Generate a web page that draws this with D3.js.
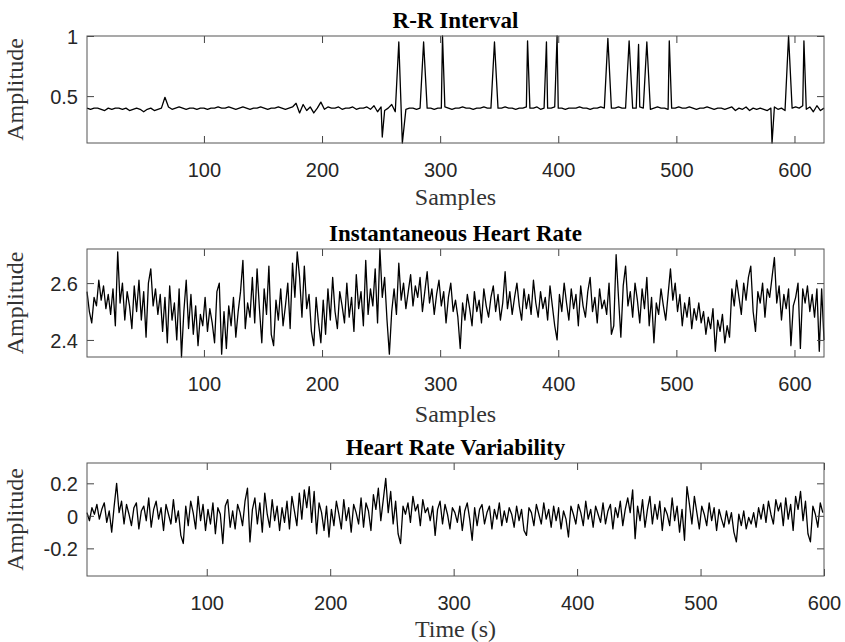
<!DOCTYPE html>
<html>
<head>
<meta charset="utf-8">
<script src="https://cdn.jsdelivr.net/npm/d3@7"></script>
<style>
  body { margin: 0; background: #fff; }
</style>
</head>
<body>
<div id="chart"></div>
<script>
// R-R interval: baseline read every 3 samples (1, 4, 7 ... 625)
const rrBase = [
  0.40,0.39,0.40,0.40,0.39,0.38,0.40,0.39,0.40,0.40,
  0.39,0.40,0.38,0.39,0.40,0.39,0.37,0.39,0.40,0.38,
  0.39,0.40,0.49,0.41,0.39,0.40,0.41,0.40,0.39,0.40,
  0.40,0.39,0.40,0.40,0.39,0.40,0.40,0.41,0.40,0.40,
  0.41,0.40,0.39,0.40,0.41,0.40,0.39,0.40,0.40,0.41,
  0.40,0.39,0.40,0.40,0.41,0.40,0.39,0.40,0.41,0.44,
  0.36,0.43,0.38,0.41,0.36,0.40,0.45,0.39,0.41,0.40,
  0.40,0.41,0.39,0.40,0.40,0.41,0.39,0.40,0.40,0.41,
  0.39,0.42,0.37,0.41,0.38,0.40,0.43,0.37,0.41,0.40,
  0.39,0.40,0.40,0.39,0.40,0.41,0.40,0.40,0.39,0.40,
  0.40,0.41,0.40,0.39,0.40,0.40,0.41,0.40,0.40,0.39,
  0.40,0.40,0.41,0.40,0.40,0.39,0.40,0.40,0.41,0.40,
  0.40,0.39,0.40,0.40,0.41,0.40,0.40,0.41,0.39,0.40,
  0.40,0.40,0.41,0.40,0.40,0.39,0.40,0.40,0.40,0.41,
  0.40,0.40,0.39,0.40,0.40,0.41,0.40,0.39,0.40,0.40,
  0.41,0.40,0.40,0.39,0.40,0.40,0.41,0.40,0.40,0.39,
  0.40,0.41,0.40,0.40,0.39,0.40,0.40,0.41,0.40,0.40,
  0.41,0.40,0.39,0.40,0.40,0.41,0.40,0.39,0.40,0.40,
  0.39,0.40,0.41,0.38,0.40,0.39,0.41,0.38,0.40,0.39,
  0.40,0.39,0.38,0.40,0.41,0.39,0.40,0.38,0.40,0.40,
  0.41,0.40,0.42,0.39,0.41,0.37,0.42,0.38,0.40
];
const rrSpikeSample = [251, 265, 268, 286, 302, 346, 374, 390, 399, 442, 460, 468, 475, 494, 581, 595, 608];
const rrSpikeValue  = [0.16, 0.95, 0.11, 0.95, 1.00, 0.95, 0.96, 0.95, 1.00, 0.98, 0.96, 0.93, 0.95, 0.96, 0.11, 1.00, 0.96];

// instantaneous heart rate, read every 2 samples (1, 3, 5 ... 625)
const ihr = [
  2.57,2.50,2.46,2.55,2.52,2.61,2.54,2.59,2.51,2.56,
  2.49,2.58,2.45,2.71,2.53,2.60,2.47,2.57,2.52,2.44,
  2.59,2.50,2.61,2.47,2.57,2.41,2.60,2.65,2.52,2.58,
  2.49,2.56,2.43,2.55,2.39,2.59,2.47,2.53,2.40,2.58,
  2.34,2.50,2.61,2.44,2.56,2.42,2.52,2.38,2.49,2.45,
  2.55,2.43,2.51,2.46,2.39,2.57,2.60,2.35,2.50,2.37,
  2.52,2.45,2.55,2.41,2.50,2.57,2.68,2.44,2.53,2.48,
  2.62,2.46,2.65,2.51,2.39,2.58,2.49,2.66,2.42,2.38,
  2.54,2.47,2.58,2.45,2.52,2.60,2.44,2.67,2.55,2.71,
  2.62,2.48,2.66,2.51,2.56,2.43,2.38,2.55,2.46,2.39,
  2.54,2.42,2.58,2.47,2.62,2.50,2.44,2.57,2.52,2.46,
  2.60,2.48,2.55,2.43,2.63,2.51,2.57,2.45,2.68,2.49,
  2.58,2.52,2.65,2.46,2.72,2.55,2.62,2.47,2.35,2.50,
  2.58,2.49,2.67,2.54,2.60,2.51,2.57,2.63,2.52,2.59,
  2.55,2.62,2.50,2.57,2.64,2.53,2.58,2.49,2.56,2.61,
  2.52,2.57,2.46,2.55,2.60,2.50,2.54,2.48,2.37,2.53,
  2.47,2.56,2.51,2.45,2.57,2.50,2.54,2.46,2.58,2.52,
  2.48,2.55,2.59,2.50,2.56,2.47,2.53,2.64,2.51,2.57,
  2.49,2.55,2.60,2.52,2.47,2.58,2.51,2.56,2.49,2.61,
  2.53,2.48,2.57,2.51,2.55,2.47,2.59,2.52,2.45,2.40,
  2.56,2.50,2.60,2.53,2.47,2.58,2.51,2.56,2.45,2.59,
  2.52,2.48,2.57,2.62,2.50,2.55,2.46,2.58,2.51,2.54,
  2.49,2.60,2.42,2.45,2.70,2.55,2.41,2.59,2.66,2.52,
  2.57,2.48,2.60,2.54,2.46,2.58,2.51,2.62,2.45,2.55,
  2.39,2.53,2.49,2.58,2.52,2.47,2.56,2.65,2.54,2.60,
  2.50,2.56,2.45,2.53,2.48,2.55,2.44,2.51,2.47,2.53,
  2.46,2.50,2.42,2.48,2.44,2.51,2.36,2.47,2.43,2.49,
  2.39,2.45,2.41,2.58,2.52,2.61,2.55,2.49,2.60,2.54,
  2.62,2.66,2.50,2.43,2.57,2.53,2.60,2.48,2.58,2.55,
  2.62,2.69,2.53,2.59,2.47,2.56,2.51,2.58,2.38,2.52,
  2.55,2.60,2.37,2.58,2.53,2.59,2.50,2.56,2.48,2.58,
  2.36,2.58,2.40
];

// heart rate variability, read every 2 s (3, 5, 7 ... 599)
const hrv = [
   0.02,-0.03, 0.05, 0.01, 0.07,-0.02, 0.04, 0.08,-0.04, 0.03,
  -0.10, 0.06, 0.20, 0.02, 0.09,-0.05, 0.07, 0.01,-0.06, 0.05,
   0.08,-0.08, 0.03, 0.06,-0.03, 0.11,-0.07, 0.04, 0.09,-0.02,
   0.05,-0.09, 0.07, 0.01,-0.05, 0.10,-0.04, 0.03,-0.12,-0.17,
   0.06,-0.06, 0.09, 0.02,-0.08, 0.12,-0.03, 0.07,-0.09, 0.04,
  -0.05, 0.08,-0.11, 0.05, 0.01,-0.17, 0.06, 0.10,-0.07, 0.03,
  -0.08, 0.07, 0.02,-0.06, 0.09, 0.17,-0.16, 0.04, 0.11,-0.05,
   0.08,-0.10, 0.14, 0.01,-0.07, 0.10,-0.03, 0.06,-0.09, 0.05,
  -0.04, 0.09,-0.08, 0.12, 0.03,-0.06, 0.14,-0.02, 0.16, 0.05,
   0.18,-0.04, 0.15,-0.11, 0.08, 0.02,-0.09, 0.06,-0.13, 0.04,
  -0.06, 0.09, 0.01,-0.08, 0.10,-0.03, 0.05,-0.10, 0.07, 0.02,
  -0.05, 0.11,-0.07, 0.08, 0.03,-0.09, 0.13, 0.04, 0.17,-0.03,
   0.10, 0.23, 0.02, 0.15,-0.05, 0.09,-0.11,-0.17, 0.06, 0.01,
   0.08,-0.04, 0.12, 0.03, 0.07,-0.06, 0.10, 0.02, 0.05,-0.03,
   0.06,-0.12, 0.04, 0.09,-0.05, 0.07, 0.01,-0.08, 0.05, 0.02,
  -0.04, 0.06,-0.09, 0.03, 0.08,-0.02,-0.15, 0.05,-0.06, 0.04,
   0.07,-0.05, 0.02, 0.06,-0.08, 0.04,-0.02, 0.08,-0.06, 0.03,
  -0.04, 0.05, 0.01,-0.07, 0.06,-0.03, 0.04,-0.09,-0.12, 0.05,
   0.02,-0.06, 0.07, 0.01,-0.05, 0.08,-0.02, 0.04,-0.07, 0.06,
  -0.03, 0.05,-0.08, 0.03,-0.02,-0.13, 0.06, 0.01,-0.05, 0.07,
   0.02,-0.06, 0.09,-0.02, 0.04,-0.07, 0.06, 0.01,-0.04, 0.08,
  -0.05, 0.03, 0.07,-0.08, 0.05,-0.01, 0.09,-0.06, 0.04, 0.11,
   0.02, 0.16,-0.14, 0.06,-0.03, 0.10,-0.07, 0.04, 0.12,-0.05,
   0.07,-0.02, 0.09,-0.09, 0.05, 0.01,-0.06, 0.11,-0.03, 0.06,
  -0.10, 0.04,-0.15, 0.18, 0.07,-0.05, 0.12, 0.02,-0.08, 0.06,
   0.01,-0.06, 0.08,-0.03, 0.05,-0.09, 0.04,-0.02,-0.07, 0.03,
  -0.05, 0.02,-0.10,-0.16, 0.01,-0.06, 0.03,-0.08,-0.01,-0.05,
   0.02,-0.07, 0.05,-0.02, 0.07,-0.04, 0.09, 0.01,-0.05, 0.10,
   0.03, 0.08,-0.06, 0.11,-0.02, 0.07,-0.09, 0.12, 0.04, 0.15,
  -0.03, 0.09,-0.11,-0.16, 0.06, 0.01,-0.07, 0.08, 0.02
];

const sampleTicks = [100, 200, 300, 400, 500, 600];
const rrTicks = [0.5, 1];
const ihrTicks = [2.4, 2.6];
const hrvTicks = [-0.2, 0, 0.2];
const hrvYLimits = [-0.37, 0.325];

// build point lists
let rrPoints = rrBase.map((v, i) => [1 + 3 * i, v])
    .filter(p => !rrSpikeSample.includes(p[0]));
rrSpikeSample.forEach((s, i) => rrPoints.push([s, rrSpikeValue[i]]));
rrPoints.sort((a, b) => a[0] - b[0]);

const ihrPoints = ihr.map((v, i) => [1 + 2 * i, v]);
const hrvPoints = hrv.map((v, i) => [3 + 2 * i, v]);

const WIDTH = 845, HEIGHT = 642;
const LEFT = 87, RIGHT = 824;

let svg = d3.select("#chart")
    .append("svg")
    .attr("width", WIDTH)
    .attr("height", HEIGHT)
    .style("display", "block");

const panels = [
    { title: "R-R Interval", xlabel: "Samples", top: 36, bottom: 143, labelGap: 62,
      points: rrPoints, xDomain: [1, 625], yDomain: d3.extent(rrPoints, d => d[1]), yTicks: rrTicks },
    { title: "Instantaneous Heart Rate", xlabel: "Samples", top: 249, bottom: 357, labelGap: 65,
      points: ihrPoints, xDomain: [1, 625], yDomain: d3.extent(ihrPoints, d => d[1]), yTicks: ihrTicks },
    { title: "Heart Rate Variability", xlabel: "Time (s)", top: 463, bottom: 576, labelGap: 61,
      points: hrvPoints, xDomain: [3, 600], yDomain: hrvYLimits, yTicks: hrvTicks }
];

const TICK = 7;
const serif = "'Liberation Serif', 'Times New Roman', serif";

panels.forEach(p => {
    let x = d3.scaleLinear().domain(p.xDomain).range([LEFT, RIGHT]);
    let y = d3.scaleLinear().domain(p.yDomain).range([p.bottom, p.top]);
    let g = svg.append("g");

    let line = d3.line().x(d => x(d[0])).y(d => y(d[1]));
    g.append("path")
        .datum(p.points)
        .attr("d", line)
        .attr("fill", "none")
        .attr("stroke", "#000")
        .attr("stroke-width", 1.3)
        .attr("stroke-linejoin", "round");

    // bottom axis with labels, top axis only ticks
    g.append("g")
        .attr("transform", `translate(0,${p.bottom})`)
        .call(d3.axisBottom(x).tickValues(sampleTicks).tickSize(-TICK).tickFormat(d => d))
        .call(a => a.select(".domain").remove())
        .call(a => a.selectAll("text").attr("y", 34).attr("dy", null));
    g.append("g")
        .attr("transform", `translate(0,${p.top})`)
        .call(d3.axisTop(x).tickValues(sampleTicks).tickSize(-TICK).tickFormat(""))
        .call(a => a.select(".domain").remove());

    g.append("g")
        .attr("transform", `translate(${LEFT},0)`)
        .call(d3.axisLeft(y).tickValues(p.yTicks).tickSize(-TICK).tickFormat(d => String(d)))
        .call(a => a.select(".domain").remove())
        .call(a => a.selectAll("text").attr("x", -9).attr("dy", "0.36em"));
    g.append("g")
        .attr("transform", `translate(${RIGHT},0)`)
        .call(d3.axisRight(y).tickValues(p.yTicks).tickSize(-TICK).tickFormat(""))
        .call(a => a.select(".domain").remove());

    g.selectAll(".tick line").attr("stroke", "#444");
    g.selectAll(".tick text")
        .attr("fill", "#262626")
        .style("font-family", "'Liberation Sans', Arial, sans-serif")
        .style("font-size", "20px");

    g.append("rect")
        .attr("x", LEFT).attr("y", p.top)
        .attr("width", RIGHT - LEFT).attr("height", p.bottom - p.top)
        .attr("fill", "none")
        .attr("stroke", "#555")
        .attr("stroke-width", 1);

    g.append("text")
        .attr("x", (LEFT + RIGHT) / 2).attr("y", p.top - 8)
        .attr("text-anchor", "middle")
        .style("font-family", serif)
        .style("font-weight", "bold")
        .style("font-size", "23px")
        .text(p.title);

    g.append("text")
        .attr("x", (LEFT + RIGHT) / 2).attr("y", p.bottom + p.labelGap)
        .attr("text-anchor", "middle")
        .attr("fill", "#333")
        .style("font-family", serif)
        .style("font-size", "24px")
        .text(p.xlabel);

    g.append("text")
        .attr("transform", `translate(23,${(p.top + p.bottom) / 2}) rotate(-90)`)
        .attr("text-anchor", "middle")
        .attr("fill", "#333")
        .style("font-family", serif)
        .style("font-size", "24px")
        .text("Amplitude");
});
</script>
</body>
</html>
